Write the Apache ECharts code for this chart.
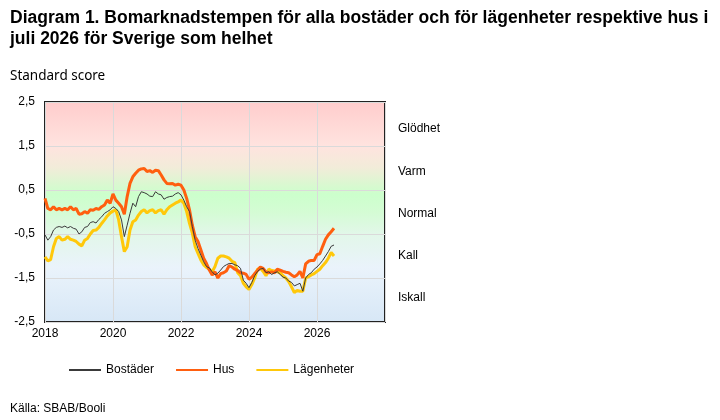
<!DOCTYPE html>
<html>
<head>
<meta charset="utf-8">
<script src="https://cdn.jsdelivr.net/npm/echarts@6/dist/echarts.min.js"></script>
<style>
html,body{margin:0;padding:0;background:#fff;}
#c{width:720px;height:420px;}
</style>
</head>
<body>
<div id="c"></div>
<script>
// Monthly values, Jan 2018 .. Jul 2026
var startYear = 2018;
var bostader = [
 -0.52,-0.64,-0.56,-0.41,-0.35,-0.33,-0.35,-0.32,-0.36,-0.33,-0.37,-0.39,
 -0.50,-0.45,-0.35,-0.33,-0.24,-0.22,-0.25,-0.17,-0.11,-0.03,0.01,0.05,
 0.12,0.08,0.01,-0.18,-0.56,-0.30,-0.03,0.20,0.12,0.35,0.46,0.44,
 0.41,0.36,0.35,0.46,0.41,0.39,0.29,0.33,0.35,0.36,0.41,0.44,
 0.39,0.27,0.12,0.01,-0.33,-0.64,-0.83,-0.98,-1.13,-1.24,-1.27,-1.36,
 -1.43,-1.39,-1.32,-1.24,-1.20,-1.17,-1.17,-1.20,-1.22,-1.28,-1.55,-1.62,
 -1.72,-1.60,-1.45,-1.35,-1.30,-1.28,-1.38,-1.36,-1.42,-1.38,-1.36,-1.42,
 -1.48,-1.50,-1.57,-1.60,-1.68,-1.65,-1.62,-1.80,-1.50,-1.42,-1.38,-1.30,
 -1.25,-1.18,-1.10,-1.00,-0.90,-0.78,-0.75
];
var hus = [
 0.31,0.08,0.05,0.12,0.05,0.08,0.05,0.08,0.05,0.12,0.05,0.08,
 -0.05,-0.04,0.01,-0.03,0.05,0.04,0.08,0.06,0.12,0.16,0.27,0.20,
 0.41,0.27,0.20,0.12,-0.05,0.35,0.65,0.80,0.88,0.95,0.98,0.99,
 0.92,0.94,0.90,0.95,0.94,0.84,0.73,0.65,0.64,0.65,0.61,0.63,
 0.61,0.50,0.31,0.05,-0.30,-0.56,-0.67,-0.86,-1.05,-1.17,-1.32,-1.43,
 -1.36,-1.50,-1.40,-1.38,-1.34,-1.22,-1.25,-1.30,-1.33,-1.38,-1.39,-1.42,
 -1.53,-1.48,-1.40,-1.33,-1.25,-1.28,-1.36,-1.38,-1.36,-1.38,-1.30,-1.32,
 -1.35,-1.37,-1.38,-1.43,-1.47,-1.43,-1.35,-1.50,-1.18,-1.12,-1.10,-1.10,
 -0.97,-0.95,-0.78,-0.62,-0.52,-0.45,-0.37
];
var lagenheter = [
 -1.02,-1.11,-1.08,-0.79,-0.60,-0.56,-0.64,-0.62,-0.56,-0.62,-0.64,-0.67,
 -0.73,-0.77,-0.64,-0.60,-0.50,-0.42,-0.41,-0.35,-0.26,-0.18,-0.09,-0.02,
 0.02,0.05,-0.18,-0.56,-0.90,-0.79,-0.41,-0.22,-0.18,-0.07,0.01,0.05,
 -0.02,0.03,0.05,-0.02,0.03,0.05,-0.05,0.05,0.12,0.16,0.20,0.23,
 0.27,0.20,0.01,-0.26,-0.48,-0.79,-0.94,-1.09,-1.20,-1.26,-1.30,-1.36,
 -1.24,-1.05,-1.00,-1.00,-1.02,-1.05,-1.12,-1.15,-1.38,-1.45,-1.62,-1.70,
 -1.76,-1.65,-1.50,-1.30,-1.28,-1.35,-1.45,-1.30,-1.33,-1.34,-1.36,-1.38,
 -1.45,-1.50,-1.58,-1.70,-1.83,-1.78,-1.80,-1.80,-1.50,-1.47,-1.43,-1.40,
 -1.35,-1.30,-1.22,-1.15,-1.05,-0.92,-1.00
];
var zoneLabels = ['Iskall', 'Kall', 'Normal', 'Varm', 'Glödhet'];
var seriesNames = ['Bostäder', 'Hus', 'Lägenheter'];
var titleText = 'Diagram 1. Bomarknadstempen för alla bostäder och för lägenheter respektive hus i\njuli 2026 för Sverige som helhet';
var yAxisTitle = 'Standard score';
var sourceText = 'Källa: SBAB/Booli';

function toPairs(arr) {
  return arr.map(function (v, i) { return [startYear + i / 12, v]; });
}

var chart = echarts.init(document.getElementById('c'), null, {renderer: 'canvas'});
var font = 'Liberation Sans, Arial, sans-serif';
chart.setOption({
  animation: false,
  backgroundColor: '#ffffff',
  title: [
    {text: titleText, left: 10, top: 8, padding: 0,
     textStyle: {fontFamily: font, fontWeight: 'bold', fontSize: 17.5, color: '#000', lineHeight: 21}},
    {text: yAxisTitle, left: 10, top: 69, padding: 0,
     textStyle: {fontFamily: 'Noto Sans, sans-serif', fontWeight: 'normal', fontSize: 13.5, color: '#000'}},
    {text: sourceText, left: 10, top: 403, padding: 0,
     textStyle: {fontFamily: font, fontWeight: 'normal', fontSize: 12, color: '#000'}}
  ],
  legend: {
    left: 68, top: 364, itemWidth: 32, itemHeight: 10, itemGap: 21, padding: 0,
    data: seriesNames,
    itemStyle: {opacity: 0},
    textStyle: {fontFamily: font, fontSize: 12, color: '#000'}
  },
  grid: [{
    left: 45, top: 102, right: 335, bottom: 98,
    show: true, borderColor: '#222', borderWidth: 2,
    backgroundColor: {
      type: 'linear', x: 0, y: 0, x2: 0, y2: 1,
      colorStops: [
        {offset: 0, color: '#ffcccc'},
        {offset: 0.2, color: '#ffe3df'},
        {offset: 0.3, color: '#f2ecd9'},
        {offset: 0.42, color: '#ccffcc'},
        {offset: 0.5, color: '#d4fcd4'},
        {offset: 0.6, color: '#e2f7e9'},
        {offset: 0.75, color: '#eaf3fb'},
        {offset: 1, color: '#d7e7f6'}
      ]
    }
  }, {
    left: 45, top: 108, right: 335, bottom: 101, show: false
  }],
  xAxis: [{
    type: 'value', min: 2018, max: 2028, interval: 2, gridIndex: 0,
    axisLine: {show: false}, axisTick: {show: false},
    splitLine: {show: true, lineStyle: {color: '#dadada', width: 1}},
    axisLabel: {fontFamily: font, fontSize: 12, color: '#000', margin: 6,
      formatter: function (v) { return v >= 2028 ? '' : String(v); }}
  }, {
    type: 'value', min: 0, max: 1, gridIndex: 1, show: false
  }],
  yAxis: [
    {
      type: 'value', min: -2.5, max: 2.5, interval: 1, gridIndex: 0,
      axisLine: {show: false}, axisTick: {show: false},
      splitLine: {show: true, lineStyle: {color: '#dadada', width: 1}},
      axisLabel: {fontFamily: font, fontSize: 12, color: '#000', margin: 10,
        formatter: function (v) { return String(v).replace('.', ','); }}
    },
    {
      type: 'category', position: 'right', data: zoneLabels, boundaryGap: true, gridIndex: 1,
      axisLine: {show: false}, axisTick: {show: false}, splitLine: {show: false},
      axisLabel: {fontFamily: font, fontSize: 12, color: '#000', margin: 13, align: 'left'}
    }
  ],
  series: [
    {name: seriesNames[0], type: 'line', data: toPairs(bostader), symbol: 'none', z: 5,
     lineStyle: {color: '#3a3a3a', width: 1}, itemStyle: {color: '#3a3a3a'}},
    {name: seriesNames[1], type: 'line', data: toPairs(hus), symbol: 'none', z: 4,
     lineStyle: {color: '#ff5f0f', width: 3}, itemStyle: {color: '#ff5f0f'}},
    {name: seriesNames[2], type: 'line', data: toPairs(lagenheter), symbol: 'none', z: 3,
     lineStyle: {color: '#ffc80a', width: 3}, itemStyle: {color: '#ffc80a'}}
  ]
});
</script>
</body>
</html>
